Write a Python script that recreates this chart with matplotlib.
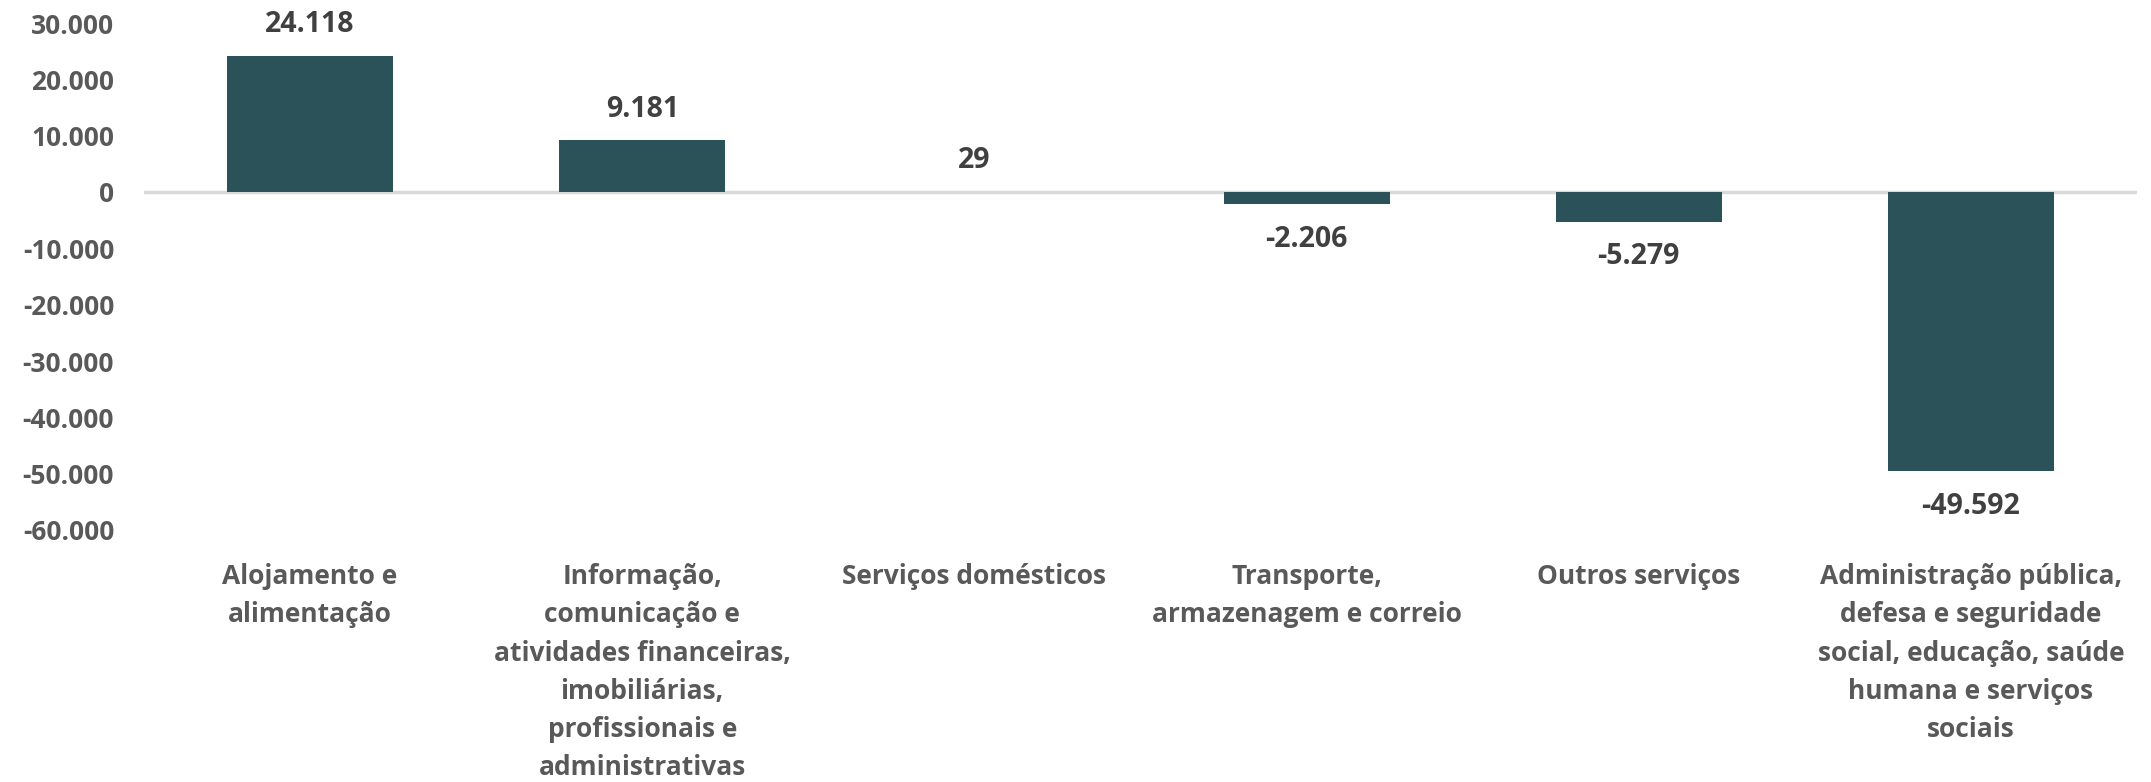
import matplotlib
matplotlib.use("Agg")
import matplotlib.pyplot as plt
import numpy as np

categories = [
    "Alojamento e\nalimentação",
    "Informação,\ncomunicação e\natividades financeiras,\nimobiliárias,\nprofissionais e\nadministrativas",
    "Serviços domésticos",
    "Transporte,\narmazenagem e correio",
    "Outros serviços",
    "Administração pública,\ndefesa e seguridade\nsocial, educação, saúde\nhumana e serviços\nsociais",
]
values = [24118, 9181, 29, -2206, -5279, -49592]
value_labels = ["24.118", "9.181", "29", "-2.206", "-5.279", "-49.592"]
yticks = [30000, 20000, 10000, 0, -10000, -20000, -30000, -40000, -50000, -60000]
ytick_labels = ["30.000", "20.000", "10.000", "0", "-10.000", "-20.000", "-30.000", "-40.000", "-50.000", "-60.000"]

plt.rcParams['font.family'] = ['Open Sans', 'DejaVu Sans']
W, H = 2151, 782
fig = plt.figure(figsize=(W/100, H/100), dpi=100)
ax = fig.add_axes([144/W, 1-530/H, (2137-144)/W, (530-23)/H])

x = np.arange(len(categories))
bar_color = "#2B5159"
ax.bar(x, values, width=0.5, color=bar_color, zorder=3)
ax.set_xlim(-0.5, len(categories)-0.5)
ax.set_ylim(-60000, 30000)
ax.axhline(0, color="#D9D9D9", lw=2.5, zorder=2)

for s in ax.spines.values():
    s.set_visible(False)
ax.set_yticks(yticks)
ax.set_yticklabels(ytick_labels, fontsize=19, fontweight='bold', color="#595959")
ax.tick_params(axis='y', length=0, pad=21.5)
ax.set_xticks(x)
ax.set_xticklabels(categories, fontsize=19, fontweight='bold', color="#595959", linespacing=1.53, va='top')
ax.tick_params(axis='x', length=0, pad=24)

for xi, v, lab in zip(x, values, value_labels):
    if v >= 0:
        ax.annotate(lab, (xi, v), xytext=(0, 22.5), textcoords='offset points',
                    ha='center', va='center', fontsize=20.5, fontweight='bold', color="#404040")
    else:
        ax.annotate(lab, (xi, v), xytext=(0, -25), textcoords='offset points',
                    ha='center', va='center', fontsize=20.5, fontweight='bold', color="#404040")

fig.savefig("out.png", dpi=100)
